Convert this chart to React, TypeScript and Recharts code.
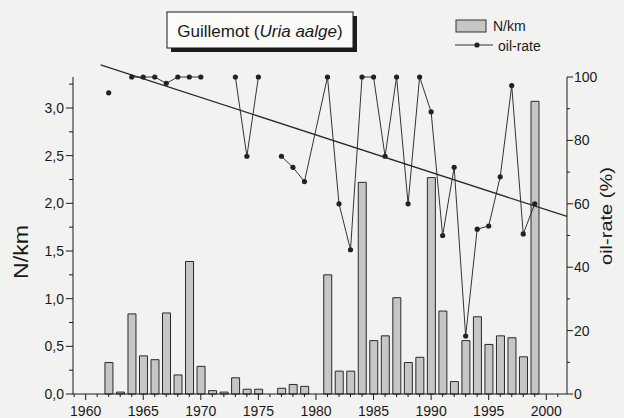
import React from 'react';
import { ComposedChart, Bar, Line, XAxis, YAxis, ReferenceLine } from 'recharts';

// ---- data ----
const years = [1962, 1963, 1964, 1965, 1966, 1967, 1968, 1969, 1970, 1971, 1972, 1973, 1974, 1975, 1976, 1977, 1978, 1979,
  1981, 1982, 1983, 1984, 1985, 1986, 1987, 1988, 1989, 1990, 1991, 1992, 1993, 1994, 1995, 1996, 1997, 1998, 1999];
const nPerKm = [0.33, 0.02, 0.84, 0.40, 0.36, 0.85, 0.20, 1.39, 0.29, 0.035, 0.02, 0.17, 0.05, 0.05, null, 0.06, 0.10, 0.08,
  1.25, 0.24, 0.24, 2.22, 0.56, 0.61, 1.01, 0.33, 0.385, 2.27, 0.87, 0.13, 0.56, 0.81, 0.52, 0.61, 0.59, 0.39, 3.07];
const oilRate = [95, null, 100, 100, 100, 98, 100, 100, 100, null, null, 100, 75, 100, null, 75, 71.5, 67,
  100, 60, 45.5, 100, 100, 75, 100, 60, 100, 89, 50, 71.5, 18.3, 52, 53, 68.5, 97.3, 50.5, 60];
const trendYears = [1961.3, 2001.8];
const trendRate = [103.8, 56];
const xTicks = [1959, 1960, 1961, 1962, 1963, 1964, 1965, 1966, 1967, 1968, 1969, 1970, 1971, 1972, 1973, 1974, 1975, 1976, 1977, 1978, 1979, 1980,
  1981, 1982, 1983, 1984, 1985, 1986, 1987, 1988, 1989, 1990, 1991, 1992, 1993, 1994, 1995, 1996, 1997, 1998, 1999, 2000, 2001];
const leftTicks = [0, 0.25, 0.5, 0.75, 1, 1.25, 1.5, 1.75, 2, 2.25, 2.5, 2.75, 3, 3.25];
const rightTicks = [0, 10, 20, 30, 40, 50, 60, 70, 80, 90, 100];

const data = years.map((y, i) => ({ year: y, nkm: nPerKm[i], oil: oilRate[i] }));

const FONT = '"Liberation Sans", Arial, sans-serif';
const INK = '#1a1a1a';
const BG = '#f2f3f1';

const XTick = (props: any) => {
  const { x, y, payload } = props;
  const v = payload.value;
  const major = v % 5 === 0;
  return (
    <g>
      <line x1={x} y1={y} x2={x} y2={y + (major ? 6 : 3)} stroke={INK} strokeWidth={1} />
      {major && (
        <text x={x} y={y + 22} textAnchor="middle" fontSize={14} fill={INK} fontFamily={FONT}>{v}</text>
      )}
    </g>
  );
};

const LeftTick = (props: any) => {
  const { x, y, payload } = props;
  const v = payload.value;
  const major = Math.abs(v * 2 - Math.round(v * 2)) < 1e-6;
  return (
    <g>
      <line x1={x} y1={y} x2={x - (major ? 7 : 4)} y2={y} stroke={INK} strokeWidth={1} />
      {major && (
        <text x={x - 9} y={y + 5} textAnchor="end" fontSize={14} fill={INK} fontFamily={FONT}>
          {v.toFixed(1).replace('.', ',')}
        </text>
      )}
    </g>
  );
};

const RightTick = (props: any) => {
  const { x, y, payload } = props;
  const v = payload.value;
  const major = v % 20 === 0;
  return (
    <g>
      <line x1={x} y1={y} x2={x + (major ? 6 : 3)} y2={y} stroke={INK} strokeWidth={1} />
      {major && (
        <text x={x + 7} y={y + 5} textAnchor="start" fontSize={14} fill={INK} fontFamily={FONT}>{v}</text>
      )}
    </g>
  );
};

export default function App() {
  return (
    <div style={{ position: 'absolute', left: 0, top: 0, width: 624, height: 418, background: BG, overflow: 'hidden' }}>
      <ComposedChart
        width={624}
        height={418}
        data={data}
        margin={{ top: 77, right: 0, bottom: 0, left: 0 }}
        style={{ overflow: 'visible' }}
      >
        <XAxis
          dataKey="year"
          type="number"
          domain={[1958.9, 2001.8]}
          ticks={xTicks}
          interval={0}
          height={24}
          tickSize={0}
          tickMargin={0}
          axisLine={{ stroke: INK, strokeWidth: 1 }}
          tickLine={false}
          tick={<XTick />}
        />
        <YAxis
          yAxisId="left"
          orientation="left"
          domain={[0, 3.325]}
          ticks={leftTicks}
          interval={0}
          width={73}
          tickSize={0}
          tickMargin={0}
          axisLine={{ stroke: INK, strokeWidth: 1 }}
          tickLine={false}
          tick={<LeftTick />}
        />
        <YAxis
          yAxisId="right"
          orientation="right"
          domain={[0, 100]}
          ticks={rightTicks}
          interval={0}
          width={57}
          tickSize={0}
          tickMargin={0}
          axisLine={{ stroke: INK, strokeWidth: 1 }}
          tickLine={false}
          tick={<RightTick />}
        />
        <Bar
          yAxisId="left"
          dataKey="nkm"
          barSize={8}
          fill="#c6c6c4"
          stroke="#2a2a2a"
          strokeWidth={1}
          isAnimationActive={false}
        />
        <Line
          yAxisId="right"
          dataKey="oil"
          stroke="#333"
          strokeWidth={1}
          connectNulls={false}
          dot={{ r: 2.6, fill: '#222', stroke: '#222', strokeWidth: 0 }}
          isAnimationActive={false}
        />
        <ReferenceLine
          yAxisId="right"
          segment={[
            { x: trendYears[0], y: trendRate[0] },
            { x: trendYears[1], y: trendRate[1] },
          ]}
          stroke="#2a2a2a"
          strokeWidth={1.3}
          ifOverflow="visible"
        />
      </ComposedChart>
      <svg width={624} height={418} style={{ position: 'absolute', left: 0, top: 0, pointerEvents: 'none' }}>
        {/* title box */}
        <rect x={171} y={16} width={186} height={36} fill="#1c1c1c" />
        <rect x={167} y={12} width={186} height={36} fill="#fbfbfa" stroke={INK} strokeWidth={1} />
        <text x={260} y={37} textAnchor="middle" fontSize={17} fill={INK} fontFamily={FONT}>
          <tspan>Guillemot (</tspan>
          <tspan fontStyle="italic">Uria aalge</tspan>
          <tspan>)</tspan>
        </text>
        {/* legend */}
        <rect x={456} y={20} width={30} height={12} fill="#c6c6c4" stroke="#333" strokeWidth={1} />
        <text x={493} y={31} fontSize={14} fill={INK} fontFamily={FONT}>N/km</text>
        <line x1={455} y1={45} x2={493} y2={45} stroke="#333" strokeWidth={1} />
        <circle cx={477} cy={45} r={2.6} fill="#222" />
        <text x={498} y={51} fontSize={14} fill={INK} fontFamily={FONT}>oil-rate</text>
        {/* axis titles */}
        <text x={0} y={0} transform="translate(28,252) rotate(-90)" textAnchor="middle" fontSize={21} fill={INK}
          fontFamily={FONT} textLength={54} lengthAdjust="spacingAndGlyphs">N/km</text>
        <text x={0} y={0} transform="translate(612,216) rotate(-90)" textAnchor="middle" fontSize={17} fill={INK}
          fontFamily={FONT} textLength={98} lengthAdjust="spacingAndGlyphs">oil-rate (%)</text>
      </svg>
    </div>
  );
}
